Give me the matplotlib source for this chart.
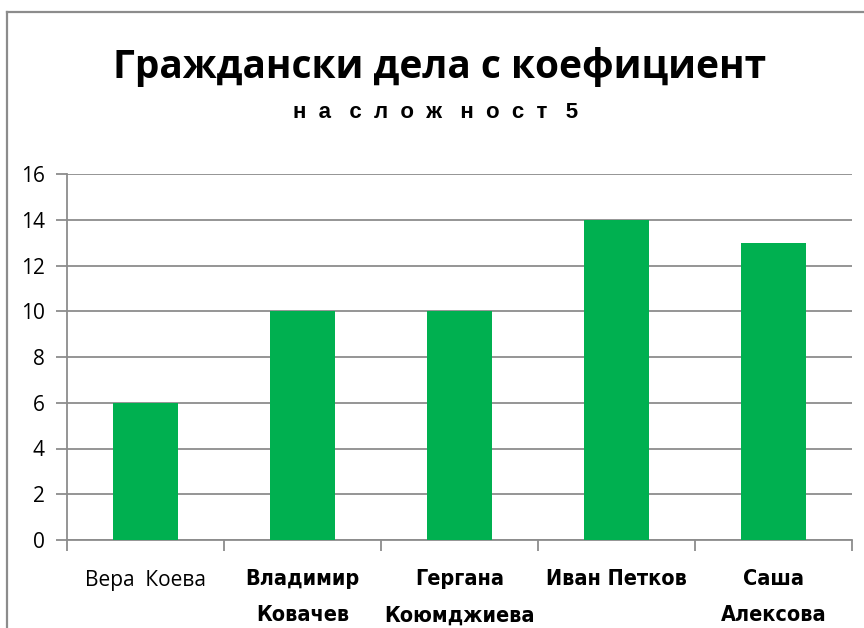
import numpy as np
import matplotlib
matplotlib.use('Agg')
from matplotlib import pyplot as plt
from matplotlib.lines import Line2D

names = ['Вера  Коева', 'Владимир\nКовачев', 'Гергана\nКоюмджиева', 'Иван Петков', 'Саша\nАлексова']
bold_names = [False, True, True, True, True]
cases = [6, 10, 10, 14, 13]
yticks = [0, 2, 4, 6, 8, 10, 12, 14, 16]

grey = '#8c8c8c'
green = '#00b050'

fig = plt.figure(figsize=(8.64, 6.28), dpi=100)
ax = fig.add_axes([67/864, 1 - 540/628, (852 - 67)/864, (540 - 174)/628])

x = np.arange(len(cases))
ax.bar(x, cases, width=0.41, color=green, zorder=3)

ax.set_xlim(-0.5, len(cases) - 0.5)
ax.set_ylim(0, 16)
ax.set_yticks(yticks)
ax.set_yticklabels([str(v) for v in yticks], fontsize=15, family='Open Sans')
ax.yaxis.grid(True, color=grey, linewidth=1.3, zorder=0)
ax.tick_params(axis='y', length=8, width=1.3, color=grey, pad=8)

# category boundary ticks
ax.set_xticks(np.arange(len(cases) + 1) - 0.5)
ax.set_xticklabels([])
ax.tick_params(axis='x', length=8, width=1.3, color=grey)

for i, (n, b) in enumerate(zip(names, bold_names)):
    if b:
        ax.text(i, -1.25, n, ha='center', va='top', fontsize=15.5, fontweight='bold',
                family='DejaVu Sans', fontstretch='condensed', linespacing=2.05,
                transform=ax.transData)
    else:
        ax.text(i, -1.3, n, ha='center', va='top', fontsize=15,
                family='Open Sans', transform=ax.transData)

for s in ['top', 'right']:
    ax.spines[s].set_visible(False)
for s in ['left', 'bottom']:
    ax.spines[s].set_color(grey)
    ax.spines[s].set_linewidth(1.3)

fig.text(440/864, 1 - 67/628, 'Граждански дела с коефициент',
         ha='center', va='center', fontsize=28, fontweight='bold', family='Open Sans')
fig.text(436/864, 1 - 112/628, 'н  а   с  л  о  ж   н  о  с  т   5', ha='center', va='center',
         fontsize=16, fontweight='bold', family='Liberation Sans')

# outer chart border (top and left visible)
fig.add_artist(Line2D([7/864, 1], [1 - 12/628, 1 - 12/628], color=grey, linewidth=1.6,
                      transform=fig.transFigure))
fig.add_artist(Line2D([7/864, 7/864], [0, 1 - 12/628], color=grey, linewidth=1.6,
                      transform=fig.transFigure))

fig.savefig('out.png', dpi=100)
